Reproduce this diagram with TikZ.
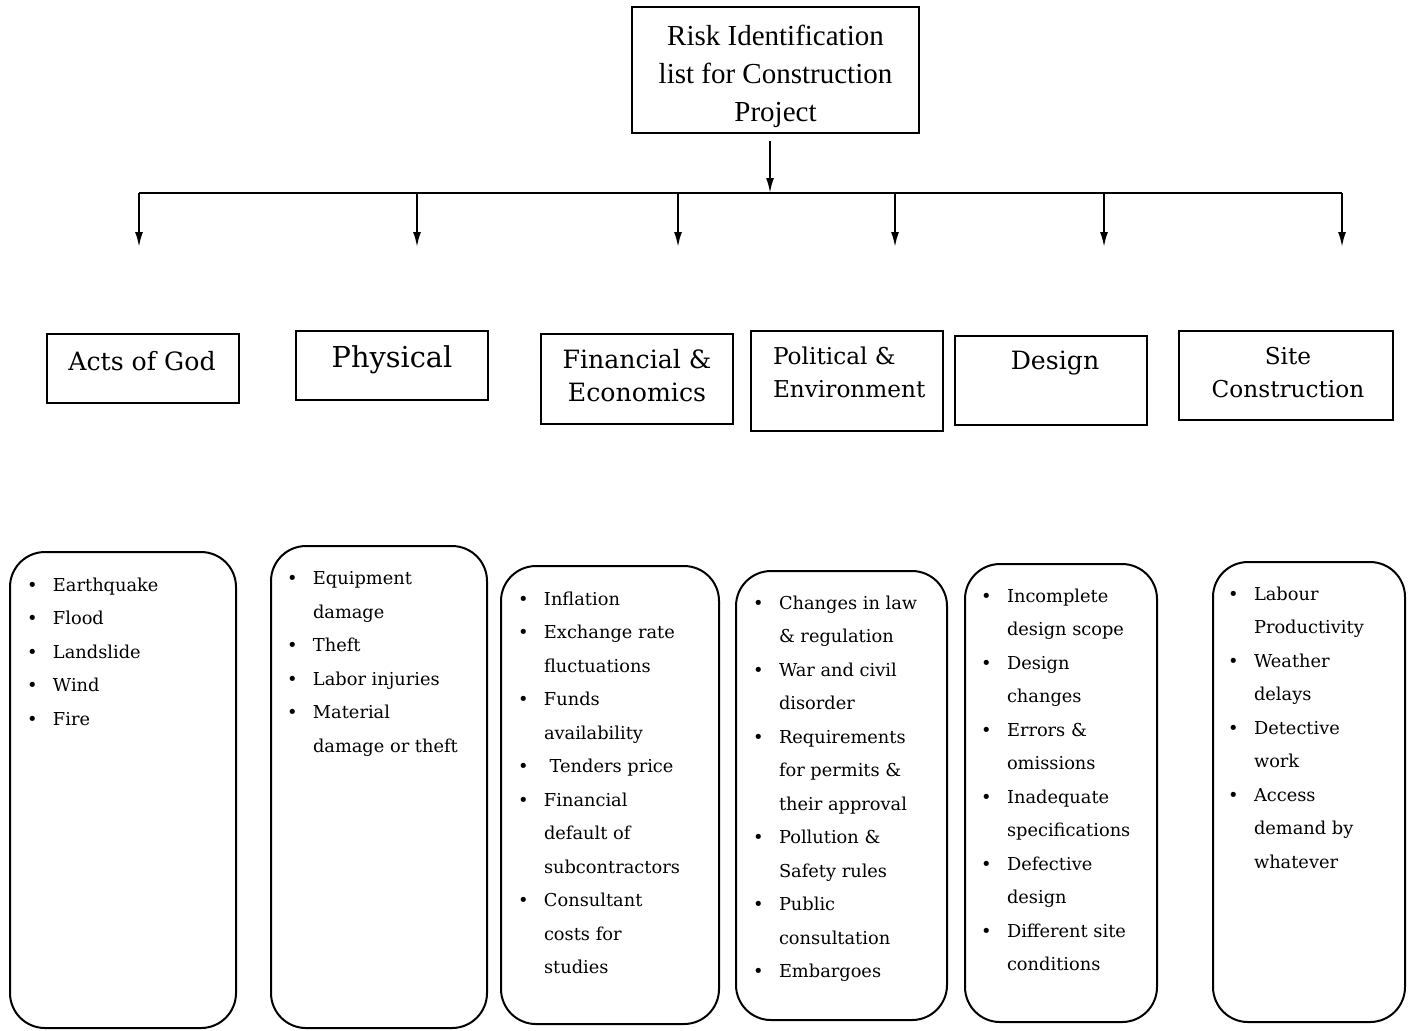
\documentclass[tikz,border=0pt]{standalone}
\usepackage{fontspec}
\setmainfont{DejaVu Serif}
\newfontfamily\titlefont{Liberation Serif}
\usetikzlibrary{positioning, arrows.meta}
\newcommand{\itm}[1]{\makebox[13pt][l]{\textbullet}#1}
\newcommand{\cnt}[1]{\hspace*{13pt}#1}
\tikzset{
x=0.5pt, y=-0.5pt, % one unit is one pixel of the layout, y runs down
->/.style={-{Latex[length=7.5pt,width=4pt]}}, % long thin arrow heads
every path/.style={line width=1pt},
head/.style={draw, line width=0.8pt, inner sep=0pt},
headtxt/.style={align=center, inner sep=0pt, font=\titlefont\fontsize{14.5}{19}\selectfont},
catbox/.style={draw, minimum height=#1, minimum width=96pt, inner sep=0pt},
cattxt/.style={align=center, inner sep=0pt, font=\fontsize{12.6}{16.5}\selectfont},
riskbox/.style={draw, rounded corners=17.5pt, inner sep=0pt},
risklist/.style={align=left, inner sep=0pt, anchor=north west, font=\fontsize{8.9}{16.75}\selectfont},
}
\begin{document}
\begin{tikzpicture}
\useasboundingbox (0,0) rectangle (1411,1030);

% top of the tree
\node[head, minimum width=143.5pt, minimum height=63pt] (top) at (775.5,70) {};
\node[headtxt] (toptxt) at (775.5,76) {Risk Identification\\list for Construction\\Project};
\coordinate (bus) at (770,193);
\foreach \i/\x in {1/139, 2/417, 3/678, 4/895, 5/1104, 6/1342}
  \coordinate (d\i) at (\x,247);

\draw[->] ([yshift=-3.5pt]top.south -| bus) -- (bus);
\draw (d1 |- bus) -- (d6 |- bus);
\foreach \i in {1,...,6}
  \draw[->] (d\i |- bus) -- (d\i);

% risk categories
\node[catbox=34.5pt] (c1) at (143,368.5) {};
\node[catbox=34.5pt] (c2) at (392,365.5) {};
\node[catbox=45pt] (c3) at (637,379) {};
\node[catbox=50pt] (c4) at (847,381) {};
\node[catbox=44.5pt] (c5) at (1051,380.5) {};
\node[catbox=44.5pt, minimum width=107pt] (c6) at (1286,375.5) {};

\node[cattxt] (n1) at (142,361) {Acts of God};
\node[cattxt, font=\fontsize{14.4}{18}\selectfont] (n2) at (392,360) {Physical};
\node[cattxt] (n3) at (637,375.5) {Financial \&\\Economics};
\node[cattxt, align=left, anchor=west, font=\fontsize{11.6}{16.5}\selectfont] (n4) at (772,372.5) {Political \&\\Environment};
\node[cattxt] (n5) at (1055,363) {Design};
\node[cattxt, font=\fontsize{11.6}{16.5}\selectfont] (n6) at (1288,372.5) {Site\\Construction};

% risk lists
\node[riskbox, minimum width=113pt, minimum height=238pt] (b1) at (123,790) {};
\node[riskbox, minimum width=108pt, minimum height=241pt] (b2) at (379,787) {};
\node[riskbox, minimum width=109pt, minimum height=229pt] (b3) at (610,795) {};
\node[riskbox, minimum width=105.5pt, minimum height=224.5pt] (b4) at (841.5,795.5) {};
\node[riskbox, minimum width=96pt, minimum height=229pt] (b5) at (1061,793) {};
\node[riskbox, minimum width=96pt, minimum height=230pt] (b6) at (1309,792) {};

\node[risklist] (l1) at (26,576.5) {\itm{Earthquake}\\\itm{Flood}\\\itm{Landslide}\\\itm{Wind}\\\itm{Fire}};
\node[risklist] (l2) at (286,570.5) {\itm{Equipment}\\\cnt{damage}\\\itm{Theft}\\\itm{Labor injuries}\\\itm{Material}\\\cnt{damage or theft}};
\node[risklist] (l3) at (517,590.5) {\itm{Inflation}\\\itm{Exchange rate}\\\cnt{fluctuations}\\\itm{Funds}\\\cnt{availability}\\\itm{\ Tenders price}\\\itm{Financial}\\\cnt{default of}\\\cnt{subcontractors}\\\itm{Consultant}\\\cnt{costs for}\\\cnt{studies}};
\node[risklist] (l4) at (752,594.5) {\itm{Changes in law}\\\cnt{\& regulation}\\\itm{War and civil}\\\cnt{disorder}\\\itm{Requirements}\\\cnt{for permits \&}\\\cnt{their approval}\\\itm{Pollution \&}\\\cnt{Safety rules}\\\itm{Public}\\\cnt{consultation}\\\itm{Embargoes}};
\node[risklist] (l5) at (980,587.5) {\itm{Incomplete}\\\cnt{design scope}\\\itm{Design}\\\cnt{changes}\\\itm{Errors \&}\\\cnt{omissions}\\\itm{Inadequate}\\\cnt{specifications}\\\itm{Defective}\\\cnt{design}\\\itm{Different site}\\\cnt{conditions}};
\node[risklist] (l6) at (1227,585.5) {\itm{Labour}\\\cnt{Productivity}\\\itm{Weather}\\\cnt{delays}\\\itm{Detective}\\\cnt{work}\\\itm{Access}\\\cnt{demand by}\\\cnt{whatever}};
\end{tikzpicture}
\end{document}
